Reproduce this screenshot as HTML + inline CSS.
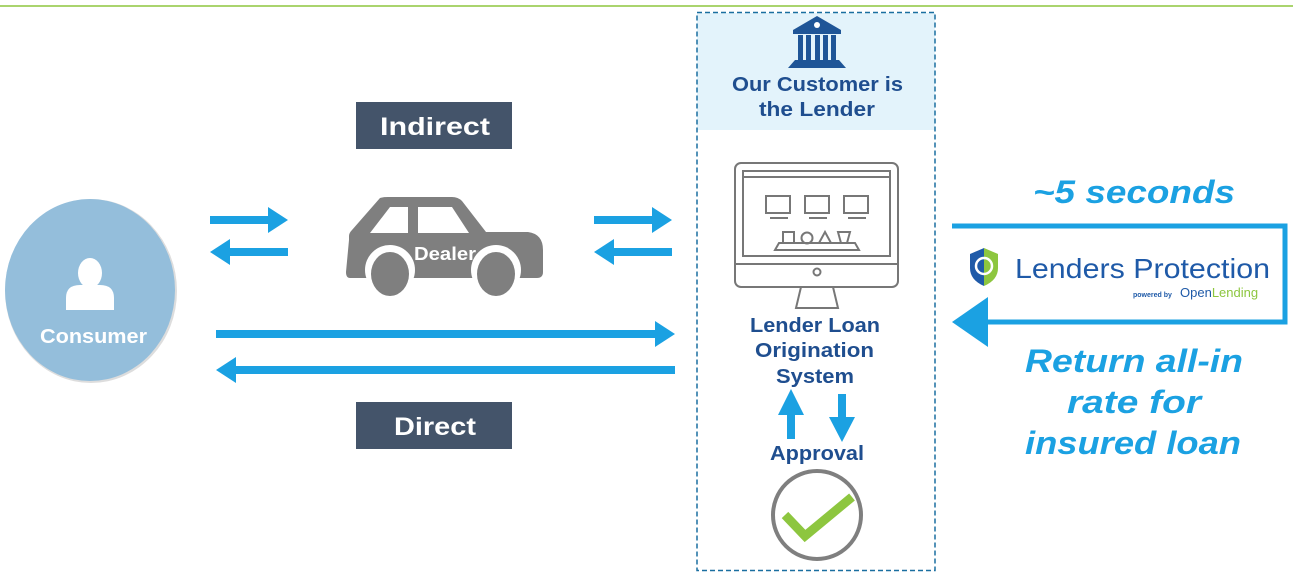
<!DOCTYPE html>
<html><head><meta charset="utf-8"><style>
html,body{margin:0;padding:0;background:#fff;}
svg{display:block;}
text{font-family:"Liberation Sans","DejaVu Sans",sans-serif;}
</style></head><body>
<svg width="1293" height="576" viewBox="0 0 1293 576" xmlns="http://www.w3.org/2000/svg">
<line x1="0" y1="6" x2="1293" y2="6" stroke="#8dc63f" stroke-width="1.5"/>
<rect x="697" y="13" width="238" height="117" fill="#e3f3fb"/>
<rect x="697" y="12.5" width="238" height="558" fill="none" stroke="#1a6fa0" stroke-width="1.5" stroke-dasharray="5,3"/>
<g fill="#1f5597">
<polygon points="817,16 793,30 841,30"/>
<rect x="793" y="30" width="48" height="4"/>
<rect x="798" y="35" width="5" height="25"/><rect x="806" y="35" width="5" height="25"/><rect x="815" y="35" width="5" height="25"/><rect x="823" y="35" width="5" height="25"/><rect x="831" y="35" width="5" height="25"/>
<polygon points="795,60 839,60 846,68 788,68"/>
</g>
<circle cx="817" cy="25" r="3" fill="#fff"/>
<text x="732" y="91" font-size="20" font-weight="bold" fill="#1f4e8f" textLength="171" lengthAdjust="spacingAndGlyphs">Our Customer is</text>
<text x="759" y="116" font-size="20" font-weight="bold" fill="#1f4e8f" textLength="116" lengthAdjust="spacingAndGlyphs">the Lender</text>
<g fill="none" stroke="#777" stroke-width="2">
<rect x="735" y="163" width="163" height="124" rx="6"/>
<rect x="743" y="171" width="147" height="85"/>
<line x1="743" y1="177" x2="890" y2="177"/>
<line x1="735" y1="264" x2="898" y2="264"/>
<circle cx="817" cy="272" r="3.5"/>
<polyline points="801,287 796,308 838,308 833,287"/>
<rect x="766" y="196" width="24" height="17"/><rect x="805" y="196" width="24" height="17"/><rect x="844" y="196" width="24" height="17"/>
<line x1="770" y1="218" x2="788" y2="218"/><line x1="809" y1="218" x2="827" y2="218"/><line x1="848" y1="218" x2="866" y2="218"/>
<polygon points="779,243 855,243 859,250 775,250"/>
<rect x="783" y="232" width="11" height="11"/><circle cx="807" cy="238" r="5.5"/>
<polygon points="825,232 819,243 831,243"/><polygon points="838,232 850,232 847,243 841,243"/>
</g>
<text x="750" y="332" font-size="20" font-weight="bold" fill="#1f4e8f" textLength="130" lengthAdjust="spacingAndGlyphs">Lender Loan</text>
<text x="755" y="357" font-size="20" font-weight="bold" fill="#1f4e8f" textLength="119" lengthAdjust="spacingAndGlyphs">Origination</text>
<text x="776" y="383" font-size="20" font-weight="bold" fill="#1f4e8f" textLength="78" lengthAdjust="spacingAndGlyphs">System</text>
<g fill="#1ba1e2">
<polygon points="791,389 778,415 787,415 787,439 795,439 795,415 804,415"/>
<polygon points="842,442 829,417 838,417 838,394 846,394 846,417 855,417"/>
</g>
<text x="770" y="460" font-size="20" font-weight="bold" fill="#1f4e8f" textLength="94" lengthAdjust="spacingAndGlyphs">Approval</text>
<circle cx="817" cy="515" r="44" fill="none" stroke="#7f7f7f" stroke-width="4"/>
<polyline points="785,515 805,536 852,497" fill="none" stroke="#8dc63f" stroke-width="9"/>
<ellipse cx="91" cy="291" rx="86" ry="92" fill="#ddd"/>
<ellipse cx="90" cy="290" rx="85" ry="91" fill="#94bedb"/>
<ellipse cx="90" cy="273" rx="12" ry="15" fill="#fff"/>
<path d="M66,310 L66,298 Q66,285 80,285 L100,285 Q114,285 114,298 L114,310 Z" fill="#fff"/>
<text x="40" y="343" font-size="20" font-weight="bold" fill="#fff" textLength="107" lengthAdjust="spacingAndGlyphs">Consumer</text>
<rect x="356" y="102" width="156" height="47" fill="#44546a"/>
<text x="380" y="135" font-size="25" font-weight="bold" fill="#fff" textLength="110" lengthAdjust="spacingAndGlyphs">Indirect</text>
<rect x="356" y="402" width="156" height="47" fill="#44546a"/>
<text x="394" y="435" font-size="25" font-weight="bold" fill="#fff" textLength="82" lengthAdjust="spacingAndGlyphs">Direct</text>
<g fill="#1ba1e2">
<polygon points="210,216 268,216 268,207 288,220 268,233 268,224 210,224"/>
<polygon points="288,248 230,248 230,239 210,252 230,265 230,256 288,256"/>
<polygon points="594,216 652,216 652,207 672,220 652,233 652,224 594,224"/>
<polygon points="672,248 614,248 614,239 594,252 614,265 614,256 672,256"/>
<polygon points="216,330 655,330 655,321 675,334 655,347 655,338 216,338"/>
<polygon points="675,366 236,366 236,357 216,370 236,383 236,374 675,374"/>
</g>
<g fill="#7f7f7f">
<path d="M349,240 L349,236 Q349,233 352,230 L380,198 Q383,197 388,197 L452,197 Q458,197 462,201 L486,232 L528,232 Q543,234 543,250 L543,272 Q543,278 537,278 L350,278 Q346,278 346,272 Z"/>
</g>
<g fill="#fff">
<polygon points="370,233 390,207 408,207 408,233"/>
<polygon points="418,207 452,207 469,233 418,233"/>
<circle cx="390" cy="270" r="25"/><circle cx="496" cy="270" r="25"/>
</g>
<g fill="#7f7f7f"><ellipse cx="390" cy="274" rx="19" ry="22"/><ellipse cx="496" cy="274" rx="19" ry="22"/></g>
<text x="414" y="260" font-size="18" font-weight="bold" fill="#fff" textLength="62" lengthAdjust="spacingAndGlyphs">Dealer</text>
<text x="1033" y="203" font-size="32" font-weight="bold" font-style="italic" fill="#1ba1e2" textLength="202" lengthAdjust="spacingAndGlyphs">~5 seconds</text>
<polyline points="952,226 1285,226 1285,322 985,322" fill="none" stroke="#1ba1e2" stroke-width="5"/>
<polygon points="952,322 988,297 988,347" fill="#1ba1e2"/>
<path d="M970,254 Q984,248 984,248 L984,286 Q970,280 970,268 Z" fill="#1f5aa8"/>
<path d="M984,248 Q998,254 998,254 L998,268 Q998,280 984,286 Z" fill="#8dc63f"/>
<circle cx="984" cy="266" r="8" fill="none" stroke="#fff" stroke-width="2.5"/>
<text x="1015" y="278" font-size="28" fill="#1f5aa8" textLength="255" lengthAdjust="spacingAndGlyphs">Lenders Protection</text>
<text x="1133" y="297" font-size="7" font-weight="bold" fill="#1f5aa8">powered by</text>
<text x="1180" y="297" font-size="13" fill="#1f5aa8">Open<tspan fill="#8dc63f">Lending</tspan></text>
<text x="1025" y="372" font-size="32" font-weight="bold" font-style="italic" fill="#1ba1e2" textLength="218" lengthAdjust="spacingAndGlyphs">Return all-in</text>
<text x="1067" y="413" font-size="32" font-weight="bold" font-style="italic" fill="#1ba1e2" textLength="134" lengthAdjust="spacingAndGlyphs">rate for</text>
<text x="1025" y="454" font-size="32" font-weight="bold" font-style="italic" fill="#1ba1e2" textLength="216" lengthAdjust="spacingAndGlyphs">insured loan</text>
</svg>
</body></html>
